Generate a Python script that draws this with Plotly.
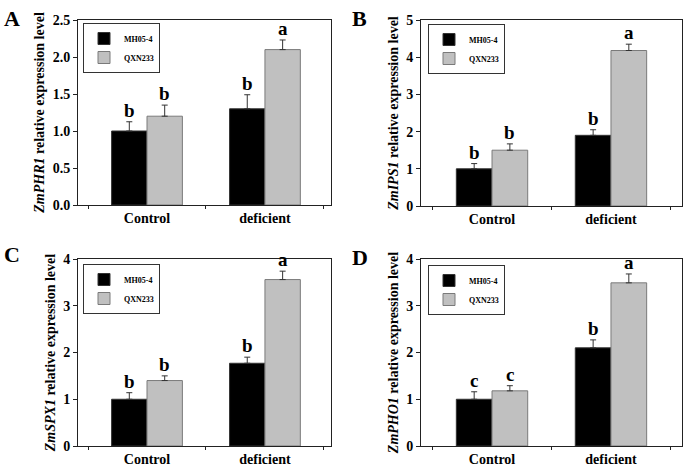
import plotly.graph_objects as go

categories = ["Control", "deficient"]
series_names = ["MH05-4", "QXN233"]
genes = ["ZmPHR1", "ZmIPS1", "ZmSPX1", "ZmPHO1"]
panel_labels = ["A", "B", "C", "D"]

# values per gene: [MH05-4, QXN233] for [Control, deficient]
phr1_mh = [1.00, 1.30]
phr1_qx = [1.20, 2.10]
phr1_mh_err = [0.125, 0.19]
phr1_qx_err = [0.15, 0.13]
phr1_letters_mh = ["b", "b"]
phr1_letters_qx = ["b", "a"]

ips1_mh = [1.00, 1.90]
ips1_qx = [1.50, 4.18]
ips1_mh_err = [0.14, 0.15]
ips1_qx_err = [0.17, 0.17]
ips1_letters_mh = ["b", "b"]
ips1_letters_qx = ["b", "a"]

spx1_mh = [1.00, 1.77]
spx1_qx = [1.40, 3.56]
spx1_mh_err = [0.14, 0.13]
spx1_qx_err = [0.10, 0.18]
spx1_letters_mh = ["b", "b"]
spx1_letters_qx = ["b", "a"]

pho1_mh = [1.00, 2.10]
pho1_qx = [1.18, 3.49]
pho1_mh_err = [0.16, 0.17]
pho1_qx_err = [0.11, 0.19]
pho1_letters_mh = ["c", "b"]
pho1_letters_qx = ["c", "a"]

y_ranges = [[0, 2.5], [0, 5], [0, 4], [0, 4]]
y_dticks = [0.5, 1, 1, 1]
y_formats = [".1f", "d", "d", "d"]

panels = [
    (phr1_mh, phr1_qx, phr1_mh_err, phr1_qx_err, phr1_letters_mh, phr1_letters_qx),
    (ips1_mh, ips1_qx, ips1_mh_err, ips1_qx_err, ips1_letters_mh, ips1_letters_qx),
    (spx1_mh, spx1_qx, spx1_mh_err, spx1_qx_err, spx1_letters_mh, spx1_letters_qx),
    (pho1_mh, pho1_qx, pho1_mh_err, pho1_qx_err, pho1_letters_mh, pho1_letters_qx),
]

W, H = 685, 468
SERIF = "Liberation Serif, Times New Roman, serif"

# plot areas in pixels (left, right, top, bottom)
boxes = [(78, 331, 20, 205), (421, 682, 20, 206), (78, 331, 259, 446), (421, 682, 259, 446)]
x_ranges = [[-0.585, 1.56], [-0.597, 1.597], [-0.585, 1.56], [-0.597, 1.597]]
legend_pos = [(83, 23), (428, 24), (83, 264), (428, 265)]
label_pos = [(2, 4), (350, 4), (2, 240), (350, 243)]

bar_colors = ["#000000", "#c0c0c0"]
bar_lines = ["#333333", "#7a7a7a"]

fig = go.Figure()
annotations = []
offset = 0.15

for i, (mh, qx, mh_err, qx_err, let_mh, let_qx) in enumerate(panels):
    xa = "x" if i == 0 else f"x{i+1}"
    ya = "y" if i == 0 else f"y{i+1}"
    leg = "legend" if i == 0 else f"legend{i+1}"
    for s, (vals, errs, lets) in enumerate([(mh, mh_err, let_mh), (qx, qx_err, let_qx)]):
        fig.add_trace(go.Bar(
            x=categories, y=vals, name=series_names[s],
            marker=dict(color=bar_colors[s], line=dict(color=bar_lines[s], width=1)),
            error_y=dict(type="data", array=errs, arrayminus=[0] * len(errs), symmetric=False,
                         color="#333333", thickness=1, width=3),
            xaxis=xa, yaxis=ya, legend=leg, showlegend=True,
        ))
        for c in range(len(categories)):
            annotations.append(dict(
                x=c + (-offset if s == 0 else offset), y=vals[c] + errs[c],
                xref=xa, yref=ya, text=f"<b>{lets[c]}</b>", showarrow=False,
                yanchor="bottom", yshift=-1,
                font=dict(family=SERIF, size=19, color="black"),
            ))

    l, r, t, b = boxes[i]
    xd = [l / W, r / W]
    yd = [1 - b / H, 1 - t / H]
    axis_common = dict(showline=True, linecolor="#222222", linewidth=1, mirror=True,
                       showgrid=False, zeroline=False, ticks="outside",
                       tickcolor="#222222", automargin=False)
    fig.update_layout(**{
        ("xaxis" if i == 0 else f"xaxis{i+1}"): dict(
            domain=xd, anchor=ya, range=x_ranges[i], type="category",
            tickson="boundaries", ticklen=3,
            tickfont=dict(family=SERIF, size=14, color="black", weight="bold"),
            **axis_common),
        ("yaxis" if i == 0 else f"yaxis{i+1}"): dict(
            domain=yd, anchor=xa, range=y_ranges[i], dtick=y_dticks[i],
            tickformat=y_formats[i], ticklen=4,
            tickfont=dict(family=SERIF, size=14, color="black", weight="bold"),
            title=dict(text=f"<b><i>{genes[i]}</i> relative expression level</b>",
                       font=dict(family=SERIF, size=14, color="black"), standoff=4),
            **axis_common),
    })

    lx, ly = legend_pos[i]
    fig.update_layout(**{leg: dict(
        x=lx / W, y=1 - ly / H, xanchor="left", yanchor="top",
        bgcolor="white", bordercolor="#333333", borderwidth=1,
        font=dict(family=SERIF, size=8, color="black", weight="bold"),
        tracegroupgap=0, itemwidth=30,
    )})

    px, py = label_pos[i]
    annotations.append(dict(
        x=px / W, y=1 - py / H, xref="paper", yref="paper", xanchor="left", yanchor="top",
        text=f"<b>{panel_labels[i]}</b>", showarrow=False,
        font=dict(family=SERIF, size=22, color="black"),
    ))

fig.update_layout(
    width=W, height=H, margin=dict(l=0, r=0, t=0, b=0),
    paper_bgcolor="white", plot_bgcolor="white",
    barmode="group", bargap=0.4, bargroupgap=0,
    annotations=annotations,
)

fig.write_html("out.html", config={"displayModeBar": False},
               post_script="document.body.style.margin='0px';")
